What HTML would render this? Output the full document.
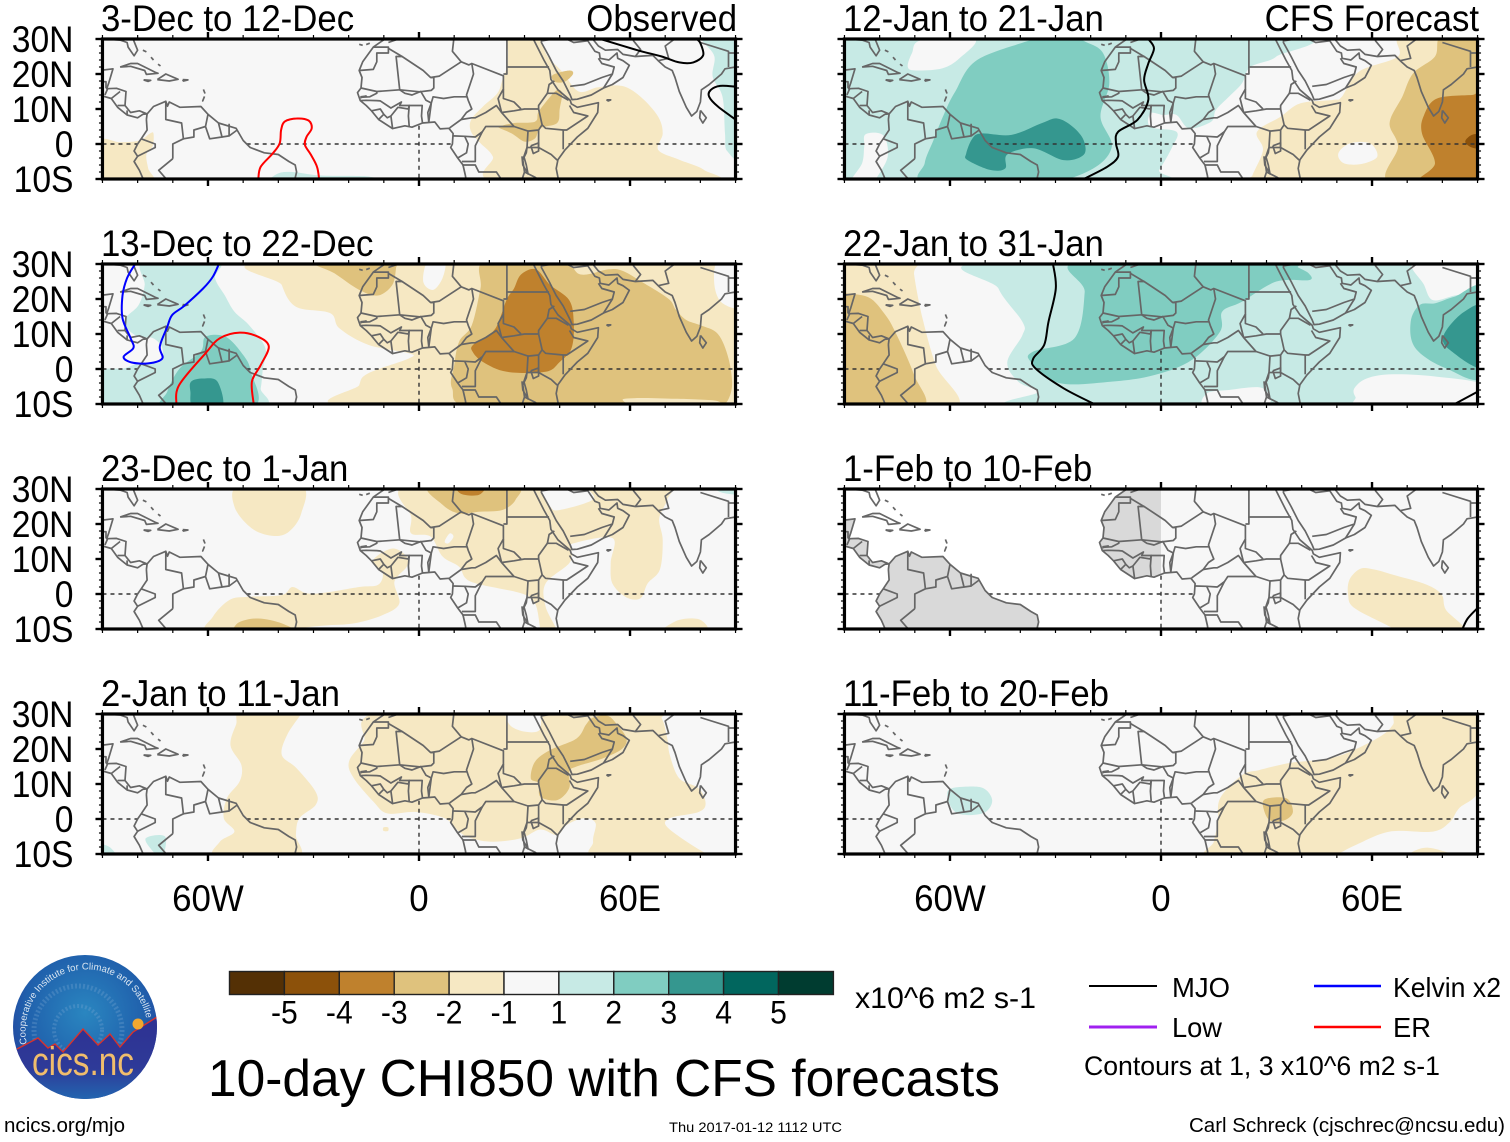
<!DOCTYPE html>
<html lang="en">
<head>
<meta charset="utf-8">
<title>10-day CHI850 with CFS forecasts</title>
<style>
html,body{margin:0;padding:0;background:#fff}
svg{display:block}
text{font-family:"Liberation Sans",sans-serif;fill:#000}
</style>
</head>
<body>
<svg id="chart" xmlns="http://www.w3.org/2000/svg" width="1510" height="1142" viewBox="0 0 1510 1142">
  <rect x="0" y="0" width="1510" height="1142" fill="#fff"/>
  <g id="panels"></g>

  <g id="colorbar"></g>
  <text x="855" y="1008" font-size="30" textLength="181" lengthAdjust="spacingAndGlyphs">x10^6 m2 s-1</text>
  <text x="208" y="1096" font-size="52" textLength="792" lengthAdjust="spacingAndGlyphs">10-day CHI850 with CFS forecasts</text>

  <g>
    <line x1="1089" y1="986" x2="1157" y2="986" stroke="#000" stroke-width="2"/>
    <text x="1172" y="997" font-size="28" textLength="58" lengthAdjust="spacingAndGlyphs">MJO</text>
    <line x1="1314" y1="986" x2="1381" y2="986" stroke="#0000ff" stroke-width="2.4"/>
    <text x="1393" y="997" font-size="28" textLength="108" lengthAdjust="spacingAndGlyphs">Kelvin x2</text>
    <line x1="1089" y1="1027" x2="1157" y2="1027" stroke="#a020f0" stroke-width="3"/>
    <text x="1172" y="1037" font-size="28" textLength="50" lengthAdjust="spacingAndGlyphs">Low</text>
    <line x1="1314" y1="1027" x2="1381" y2="1027" stroke="#ff0000" stroke-width="2.4"/>
    <text x="1393" y="1037" font-size="28" textLength="38" lengthAdjust="spacingAndGlyphs">ER</text>
    <text x="1084" y="1075" font-size="27" textLength="356" lengthAdjust="spacingAndGlyphs">Contours at 1, 3 x10^6 m2 s-1</text>
  </g>

  <g>
    <defs>
      <radialGradient id="logoSky" cx="50%" cy="40%" r="60%">
        <stop offset="0%" stop-color="#2a86c0"/>
        <stop offset="70%" stop-color="#2060ac"/>
        <stop offset="100%" stop-color="#25409c"/>
      </radialGradient>
      <linearGradient id="logoLow" x1="0" y1="0" x2="0" y2="1">
        <stop offset="0%" stop-color="#2e3192"/>
        <stop offset="55%" stop-color="#2e3a98"/>
        <stop offset="100%" stop-color="#1f74b8"/>
      </linearGradient>
      <clipPath id="logoClip"><circle cx="85" cy="1027" r="72"/></clipPath>
      <path id="logoArc" d="M 27 1044 A 60 60 0 1 1 146 1017"/>
    </defs>
    <circle cx="85" cy="1027" r="72" fill="url(#logoSky)"/>
    <g clip-path="url(#logoClip)">
      <circle cx="78" cy="1030" r="44" fill="none" stroke="#7fa9d4" stroke-width="5" stroke-dasharray="2 2" opacity=".3"/>
      <circle cx="78" cy="1030" r="24" fill="none" stroke="#7fa9d4" stroke-width="4" stroke-dasharray="2 2" opacity=".3"/>
      <path d="M10 1048 L17 1049 L38 1038 L48 1048 L55 1044 L63 1052 L83 1029 L98 1045 L110 1034 L120 1047 L133 1032 L157 1017 L160 1110 L10 1110 Z" fill="url(#logoLow)"/>
      <path d="M17 1049 L38 1038 L48 1048 L55 1044 L63 1052 L83 1029 L98 1045 L110 1034 L120 1047 L133 1032 L157 1017" fill="none" stroke="#d8322c" stroke-width="1.4"/>
      <circle cx="138" cy="1024" r="5.5" fill="#f0a830"/>
    </g>
    <text font-size="9.6" style="fill:#dbe6f2"><textPath href="#logoArc">Cooperative Institute for Climate and Satellites</textPath></text>
    <text x="32" y="1075" font-size="40" textLength="102" lengthAdjust="spacingAndGlyphs" style="fill:#f0bd6c">cics.nc</text>
  </g>

  <text x="4" y="1132" font-size="20.5" textLength="121" lengthAdjust="spacingAndGlyphs">ncics.org/mjo</text>
  <text x="669" y="1132" font-size="14" textLength="173" lengthAdjust="spacingAndGlyphs">Thu 2017-01-12 1112 UTC</text>
  <text x="1189" y="1132" font-size="20.5" textLength="316" lengthAdjust="spacingAndGlyphs">Carl Schreck (cjschrec@ncsu.edu)</text>
</svg>

<script>
/* ---------- categories / tick labels ---------- */
const leftTitles = ['3-Dec to 12-Dec','13-Dec to 22-Dec','23-Dec to 1-Jan','2-Jan to 11-Jan'];
const rightTitles = ['12-Jan to 21-Jan','22-Jan to 31-Jan','1-Feb to 10-Feb','11-Feb to 20-Feb'];
const latTicks = [30,20,10,0,-10];
const latLabels = ['30N','20N','10N','0','10S'];
const lonTicks = [-60,0,60];
const lonLabels = ['60W','0','60E'];
const colorbarLabels = [-5,-4,-3,-2,-1,1,2,3,4,5];
const levelNames = [-6,-5,-4,-3,-2,0,2,3,4,5,6];

/* ---------- filled contour regions: [level, [[lon,lat],...]] ---------- */
const fillsDec03 = [
 [-2,[[25.7,31],[25.3,26],[25,22],[23.7,18.3],[22.3,14.5],[18.2,10.7],[14.8,6.9],[14.8,3.5],[17.5,0.2],[21,-3.6],[23,-11],[82,-11],[81,-7.4],[74,-4.5],[68,-1.7],[69.3,3],[68,7.8],[63,13.5],[57.7,16.6],[50.9,16.2],[45.4,15],[40.7,20.7],[36.6,25],[34.6,30],[34.6,31]]],
 [-2,[[-91,0.7],[-85,0.5],[-79.5,1],[-76.5,3],[-75.5,3],[-75.7,-0.5],[-77.5,-3],[-77,-7],[-76,-11],[-91,-11]]],
 [-3,[[23,5],[27,6],[33,6.4],[34,9.2],[37.3,13.5],[39.3,15.4],[40.7,14.5],[40,10],[39.3,6],[34.5,4.5],[33,1.6],[30,0.7],[26.4,3],[23,4.5]]],
 [-3,[[38,19.7],[42.7,21],[43.8,20],[41.4,17.8],[38.6,17.8]]],
 [2,[[-43,-10.5],[-40,-8.4],[-36,-8],[-28,-9],[-14.4,-9.3],[-13,-11],[-43,-11]]],
 [2,[[80,31],[81,29],[84,25],[83.5,19.2],[86.3,13.5],[87,3],[87.6,-2],[92,-2],[92,31]]]
];
const fillsDec13 = [
 [2,[[-78,31],[-57.3,31],[-58,26],[-55.2,21],[-52.5,16.4],[-48.4,12.6],[-43.7,6],[-44.4,0],[-45,-5.5],[-46.4,-11],[-91,-11],[-91,-1],[-83.8,0.2],[-79.7,1.6],[-73.6,2],[-73,6],[-75.6,8.8],[-79.7,9.2],[-83,11.6],[-83.5,14.5],[-79.7,18.3],[-78,24]]],
 [3,[[-60.7,9.2],[-55,9.2],[-50,4],[-47.8,-0.8],[-47.3,-11],[-72,-11],[-71.6,-6.5],[-68,0.2],[-62,5]]],
 [4,[[-64.8,-3.6],[-61.4,-2.7],[-57.3,-3.6],[-56,-11],[-64,-11],[-65,-6.5]]],
 [-2,[[-40,31],[-39,24],[-35,17.8],[-25.3,16],[-22.6,11.6],[-14.4,6.9],[-2.9,4.5],[-2.9,3],[-14.4,-1.2],[-17,-4.6],[-18,-11],[92,-11],[92,31]]],
 [0,[[2.6,31],[7.3,31],[6.7,26],[4,22.6],[1.2,25]]],
 [0,[[85,31],[84,24],[86.3,18.8],[92,18.3],[92,31]]],
 [-3,[[-30,31],[-24,27.3],[-17,22.6],[-11.7,21],[-7.6,24],[-6.5,29],[-6.5,31]]],
 [-3,[[19,31],[17.5,23],[15,12.5],[11.4,7.8],[10,1],[9.4,-5.5],[15.5,-11],[56,-11],[58.5,-8.5],[72,-8.5],[84,-9],[87,-10],[89,-5],[88,3],[85,10],[80,12.5],[76,14],[73,17],[71,20],[64,24.5],[58,28],[54,28.5],[46,27],[40,31]]],
 [-4,[[33.2,28.5],[29,27],[27,23],[25,20],[23,14.5],[21,10.7],[15.5,7],[15.2,5],[18.2,2],[25,-0.8],[36,-0.8],[40,2],[43.4,6],[44,13.5],[42.7,19.7],[37.3,24]]]
];
const fillsDec23 = [
 [-2,[[-51,31],[-52.5,25],[-47.6,18.8],[-41.6,16.6],[-37,17.8],[-33.5,23],[-33.5,31]]],
 [-2,[[-3.5,31],[-2.2,22],[-2.2,17.3],[3.3,16.4],[6.7,10.7],[11.4,7.8],[14.8,3.5],[29,0.2],[33,-2.7],[34.5,-10],[35,-11],[39.3,-11],[36,-3.6],[36,3],[42.7,8.8],[43.4,12.6],[44,14.5],[55,16],[54.5,9],[55,3],[59,-1],[63,-1.2],[65,3],[68.5,7],[69.3,15.4],[68.3,21.6],[70.6,27],[70.6,31],[49.5,31],[49.5,27],[40,24],[37.3,25],[34.6,30],[34.6,31]]],
 [-2,[[-59.3,-11],[-58.6,-6.5],[-53.9,-1.7],[-48.4,-0.8],[-39,-0.3],[-36,2],[-32,0.2],[-26.7,0.4],[-17,2],[-11.7,2.6],[-10.3,6],[-13,9.7],[-7.6,13],[-3.5,10.7],[-3.5,7.8],[-7,3.5],[-5.6,-2.7],[-10.3,-6],[-18.5,-8.4],[-26.7,-9],[-33.5,-9.8],[-35,-11]]],
 [-2,[[68.6,-10.5],[74,-7.4],[80,-7.4],[81.5,-11],[68.6,-11]]],
 [0,[[7.3,15],[8.7,17.3],[9.8,16.4],[8.4,14.5]]],
 [-3,[[3.3,31],[6.7,25.5],[11.4,23],[17,23.5],[23.7,24],[27.5,27],[27,31]]],
 [-3,[[-53.2,-10.5],[-51,-8],[-45.7,-7],[-39,-8.4],[-36,-11],[-53.2,-11]]],
 [-4,[[11,31],[12,28.6],[17,28.3],[18.5,31]]],
 [2,[[84,31],[86,29],[92,28.5],[92,31]]]
];
const fillsJan02 = [
 [-2,[[-50,31],[-52,27],[-53.6,21],[-50.5,15.4],[-51,10.7],[-54.6,6],[-55.5,0.2],[-52.5,-3.6],[-56.6,-6.5],[-57.3,-11],[-34.8,-11],[-35,-4.6],[-34,0.2],[-29.4,4],[-29.4,7.8],[-34.8,14.5],[-39,18.3],[-37.5,24],[-33.5,30],[-33,31]]],
 [-2,[[-8.3,31],[-15.8,22],[-19.9,16.4],[-18.5,11.6],[-13,5],[-9,1.6],[-0.8,2],[7.3,0.2],[11.4,-3.6],[14.8,-5.5],[21,-6.5],[29,-5.5],[34.5,-3],[39.3,-4.6],[42,-1.7],[46.8,0.2],[50.2,-1.2],[49.5,-6.5],[51.6,-11],[88.3,-11],[82,-10],[71,-2.7],[71.3,0.2],[79.5,2],[81.5,4.5],[79.5,8.8],[74,11.6],[71.3,18.3],[70.6,23],[69,28.8],[66,31]]],
 [0,[[25.3,31],[25.7,27],[29.8,25],[34.3,25.5],[33.5,31]]],
 [-2,[[-10.1,-2.4],[-8.8,-2.4],[-8.8,-3.4],[-10.1,-3.4]]],
 [-3,[[49.5,29],[53.6,29.5],[56.3,27],[59,23],[57.7,20],[52.2,17.3],[44.8,15],[42.7,13.5],[42.7,8.8],[39.3,5.4],[34.5,6.4],[34,10.2],[31.8,11.6],[33,16.4],[37.3,19.7],[44.8,23],[47.5,27]]],
 [2,[[-91,-7.5],[-88,-8],[-86,-11],[-91,-11]]],
 [2,[[-77.7,-5.5],[-72.2,-5],[-73,-11],[-75.6,-9.3]]]
];
const fillsJan12 = [
 [2,[[-91,31],[34.5,31],[32.8,25],[25.4,22],[23,17.3],[19.3,13.5],[15.6,9.7],[14.3,6.4],[8,4.5],[4.4,8.3],[0.7,8.3],[-3,8.8],[-3,4.9],[4.4,3.5],[3.2,-0.8],[-0.5,-7.4],[-3.6,-11],[-91,-11]]],
 [0,[[-70.8,26],[-68,29.7],[-53,30],[-57.3,24.5],[-62.2,21.6],[-69.6,21],[-72,22]]],
 [0,[[-84,2.8],[-79,2.5],[-77.7,-3.6],[-81,-10],[-81,-11],[-88,-11],[-85,-5.5],[-84.4,-0.8]]],
 [3,[[-36,31],[-36.3,30],[-52.3,24],[-58.5,15],[-61.6,8.8],[-64.7,1.1],[-67.2,-5.5],[-66.5,-11],[-33.8,-11],[-20,-7.4],[-14,-0.8],[-17.2,7.8],[-14.7,17.3],[-16.5,26],[-21.5,29.2],[-26,31]]],
 [4,[[-29.5,7.3],[-25.2,5],[-22,1.1],[-22,-3.1],[-27.7,-4.6],[-36.3,-1.2],[-43.7,-3],[-44.3,-7],[-48.6,-7.4],[-55,-4.6],[-55.4,-2.7],[-53.6,1.6],[-51,3],[-42.5,2.6],[-33.8,6]]],
 [-2,[[68.6,31],[67.4,25],[56.3,20.7],[51.4,13.5],[49,12.6],[39.6,11.6],[34,7.8],[27.3,3.5],[29,-1.7],[26,-9],[26,-11],[91,-11],[91,31]]],
 [0,[[50.4,-2.7],[53.8,0.2],[59.4,0.2],[61.5,-3.6],[57,-5.7],[52,-5.5]]],
 [-3,[[79.8,31],[77.9,25],[71.7,20.2],[68.6,13.5],[65,6],[67.4,-0.8],[65,-11],[91,-11],[91,31]]],
 [-4,[[78.5,13],[88.4,14],[92,14],[92,-11],[73.6,-11],[77.9,-5.5],[74.2,3],[74.8,8.3]]],
 [-5,[[88.4,2.6],[91,2.5],[91,-1],[88.4,-1],[86.5,0.7]]]
];
const fillsJan22 = [
 [-2,[[-91,31],[-70,31],[-70.2,27],[-67.8,14.5],[-64,1],[-58.5,-11],[-91,-11]]],
 [-3,[[-91,21.6],[-89.4,21.6],[-83,20.4],[-78.7,15.9],[-75.6,10.7],[-70.2,-1.7],[-68,-11],[-91,-11]]],
 [2,[[-46.4,31],[-46.2,23],[-39.4,13.5],[-39.4,9.7],[-43.7,2],[-40.6,-3.6],[-35,-6.5],[-35.7,-11],[92,-11],[92,31]]],
 [0,[[72,31],[74.8,24],[77.3,19.7],[83.5,21],[92,23],[92,31]]],
 [0,[[55,-5.5],[58.5,-2.7],[66,-1.5],[78.5,-2.2],[92,-4.6],[92,-11],[58,-11],[55.3,-8]]],
 [0,[[13,-7],[19.3,-6],[29,-5.5],[29.8,-11],[13,-11]]],
 [3,[[-22.7,31],[-21.7,22],[-24.6,8.8],[-36.3,5],[-37,2],[-29,-4],[-14,-3.6],[-1.7,-1.7],[8.8,2.6],[16.8,10.7],[17.4,16.4],[23,19.2],[32.8,25],[42.1,25.4],[42,27.3],[39,29],[35,31]]],
 [3,[[92,22.7],[83.5,20.7],[78,18.8],[73.6,18.3],[71,13.5],[72.3,6],[81,0.2],[92,-1.7]]],
 [4,[[92,17.3],[86,16.2],[80.4,9.7],[82.2,5.4],[92,0.7]]]
];
const fillsFeb01 = [
 [-2,[[56.7,7.2],[53.6,4.1],[53.2,-0.2],[55,-4],[65,-9.3],[67.4,-11],[86,-11],[81,-4.5],[79.8,-0.2],[75.4,2.7],[66,5.5],[60.6,7]]]
];
const fillsFeb11 = [
 [2,[[-60.4,8.3],[-56,9.2],[-50.5,8.8],[-48,5.4],[-49.9,2],[-54.8,1.1],[-58.5,2],[-60.4,5]]],
 [-2,[[91,31],[68.6,31],[66,27],[63.7,24.5],[58.8,21.6],[51.4,18.3],[45,16.9],[36.5,16],[28,14],[23,12.5],[16.8,5.9],[16.2,-0.8],[15,-6.5],[14,-11],[44,-11],[50,-10],[55,-7.6],[65,-3.6],[77.3,-3.6],[82.2,-0.8],[84.7,3],[91,9.7]]],
 [-2,[[71.7,-9.3],[76,-8.2],[82.2,-9.8],[83.5,-11],[71,-11]]],
 [-3,[[29,5],[31.6,6.1],[36,5.7],[37.5,2],[35.3,-0.3],[31.6,-0.6],[29.8,1.1]]]
];

/* ---------- wave contour lines: [kind, [[lon,lat],...]] ---------- */
const linesDec03 = [
 ['mjo',[[51.6,30],[61.8,26.9],[69,25],[74,23.3],[78,23.3],[80.8,25.4],[80,28.8],[78.8,30.2]]],
 ['mjo',[[90,16.4],[85.6,16.6],[82.9,15.4],[82.5,13.5],[85,10.7],[90,7]]],
 ['er',[[-45.7,-10],[-45,-6.5],[-41.6,-2.7],[-39.6,0.2],[-39.2,4],[-38.2,6.4],[-34.8,7.3],[-31.4,6.7],[-30.5,4.5],[-32,2],[-32.4,-0.3],[-30.7,-3.1],[-29,-6.5],[-28.4,-10]]]
];
const linesDec13 = [
 ['kelvin',[[-80.7,30],[-83,26],[-84.3,21],[-84.3,14.5],[-82,8.8],[-81.2,6],[-84,3.5],[-81.8,1.9],[-77,1.6],[-73,3],[-73.7,6.4],[-71.6,12],[-70.2,15.4],[-66.8,18],[-61.4,23],[-58.6,26.4],[-56.9,30]]],
 ['er',[[-69,-10],[-68.2,-4.6],[-60.7,4.5],[-56.6,8.8],[-51,10.4],[-45.7,9.2],[-42.7,6.4],[-45,1.1],[-47.5,-3.6],[-47,-10]]]
];
const linesDec23 = [];
const linesJan02 = [];
const linesJan12 = [
 ['mjo',[[-3.6,30],[-2,27.3],[-3.6,23],[-4.8,18.3],[-3.6,12.6],[-6.7,6.9],[-12.2,3.5],[-12.8,0.2],[-12.2,-3.6],[-15.3,-6.5],[-22,-10]]]
];
const linesJan22 = [
 ['mjo',[[-30.7,30],[-29.9,23],[-32,13.5],[-33.2,6.9],[-36.3,3],[-35.7,0.2],[-27.7,-5.5],[-19,-10]]],
 ['mjo',[[83.5,-10],[90,-6.5]]]
];
const linesFeb01 = [
 ['mjo',[[85.7,-10],[87.2,-7],[90,-4]]]
];
const linesFeb11 = [];

/* ---------- map: coast and borders in lon/lat ---------- */
const caAtlantic = [[-91,21.2],[-90,21.1],[-87,21.5],[-87.6,19.5],[-88.2,17.5],[-88.8,15.8],[-86,15.9],[-83.3,15],[-83.6,11],[-82,9],[-79.5,9.5],[-77.3,8.6]];
const saAtlantic = [[-77.3,8.6],[-75.5,10.7],[-72,12.2],[-71.5,10.8],[-71,12],[-68,10.5],[-62,10.7],[-60,8.5],[-57,6],[-52,4.5],[-50,1],[-48,-1],[-44,-2.5],[-40,-3],[-37,-5],[-35.2,-6],[-34.8,-8],[-35.5,-11]];
const caPacific = [[-91,14],[-87.5,13],[-85.7,10.5],[-83,8.3],[-80,7.5],[-78.5,8.5],[-77.3,8.6]];
const saPacific = [[-77.5,7],[-77.3,4],[-79,1.5],[-80,0],[-81,-2],[-80,-3.5],[-81,-5],[-79.5,-7.5],[-78,-11]];
const africaWest = [[-9.7,31],[-9.7,30],[-13,27.7],[-16,23.5],[-17,21],[-16.2,19],[-16.5,16],[-17.5,14.7],[-16.7,12.4],[-15,11],[-13.5,9.5],[-11.5,7],[-7.5,4.4],[-4,5.2],[-2,4.8],[1,6],[4.5,6.3],[6,4.3],[8.5,4.5],[9.7,3],[9.5,0],[9,-1],[11,-4],[12.5,-6],[13.2,-9],[13.5,-11]];
const africaEast = [[32.5,31],[32.5,30],[34,27],[35.5,24],[37.2,21],[37.5,18.5],[39.5,15.5],[43,12.5],[43.3,11.5],[45,10.5],[51,11.8],[50.8,9],[48,4.5],[45,2],[41.5,-1.7],[39.5,-4.5],[39,-7],[39.8,-11]];
const arabiaCoast = [[34.9,31],[34.8,29],[37,25],[39,21],[41,18],[43,14],[43.5,12.7],[45,12.8],[49,14],[52.5,16],[55,17],[58,19],[59.8,22.5],[58,23.8],[56.5,24.5],[56.3,26],[54,24],[51.5,24.5],[51.3,26],[50,26.5],[48,29.5],[48,31]];
const iranIndiaCoast = [[49,30.5],[51,28],[53,26.8],[56.5,27],[58,25.6],[61.5,25],[66.5,25.3],[68,23.8],[70,22],[72,21],[72.8,19],[74,15],[76,10.5],[77.5,8],[79,9.3],[80,12],[80.3,15.5],[82.5,17],[86,20],[87,21.5],[90,22],[91,23]];
const usGulfCoast = [[-91,29.3],[-89,30],[-85,29.7],[-83,29],[-82.7,27.7],[-81,25.2],[-80,26.8],[-81.3,30],[-81.4,31]];
const cuba = [[-85,22],[-82,23],[-80,23],[-75,20.5],[-74.2,20.2],[-77.5,19.9],[-78,21],[-82,22.2],[-85,22]];
const hispaniola = [[-74.4,18.4],[-72,20],[-68.5,18.5],[-71,18],[-74.4,18.4]];
const jamaica = [[-78.3,18.3],[-76.3,18.2],[-77,17.9],[-78.3,18.3]];
const puertoRico = [[-67.2,18.4],[-65.7,18.3],[-67,18],[-67.2,18.4]];
const bahamasA = [[-78.5,26.8],[-77.5,26.3]];
const bahamasB = [[-76.2,24.8],[-75.5,24]];
const bahamasC = [[-74.2,22.8],[-73.5,22.3]];
const antillesA = [[-61.3,15.6],[-60.9,14.6],[-61.3,15.6]];
const antillesB = [[-61,13.6],[-61.5,12.3],[-61,13.6]];
const canaries = [[-17,28.5],[-16,28.2]];
const canariesB = [[-15,28.4],[-14,28.8]];
const sriLanka = [[80,9.6],[81.7,7.5],[80.7,6],[79.8,7.5],[80,9.6]];
const socotra = [[53.3,12.6],[54.5,12.6],[53.8,12.3],[53.3,12.6]];
const lakeVictoria = [[31.8,-0.5],[34,0.3],[34,-2],[32.5,-2.7],[31.8,-0.5]];
const lakeTanganyika = [[29.3,-3.5],[29.5,-6],[31,-8.5],[30.5,-6],[29.8,-3.5]];
const coastLines = [caAtlantic,saAtlantic,caPacific,saPacific,africaWest,africaEast,arabiaCoast,iranIndiaCoast,usGulfCoast,cuba,hispaniola,jamaica,puertoRico,bahamasA,bahamasB,bahamasC,antillesA,antillesB,canaries,canariesB,sriLanka,socotra,lakeVictoria,lakeTanganyika];
const borderLines = [
 [[-13,27.7],[-8.7,27.7],[-8.7,26],[-12,26],[-12,23.5],[-13,21.3],[-17,21]],
 [[-8.7,27.3],[-4.8,25],[-6.5,25],[-5.5,15.5],[-12,15],[-16.5,16]],
 [[-4.8,25],[1.2,21],[3.3,19],[4.2,19],[4.2,16],[3.5,15.3],[0.2,14.9],[-5.5,15.5]],
 [[-8.7,29],[-3,31]],
 [[3.3,19],[5.8,19.4],[12,23.5],[14.2,22.6],[15,23],[24,19.5],[24,15.7],[22.5,13],[23.5,9]],
 [[10,31],[9.5,26.5],[12,23.5]],
 [[25,31],[25,22],[37,22]],
 [[24,20],[25,20],[25,22]],
 [[15,23],[15.5,20],[13.5,14],[14,12.5],[15,10],[13.5,9],[12,7],[8.7,4.6]],
 [[2.8,6.3],[3.5,11.7],[4,13.5],[7,13],[10,13.5],[13.5,13.5]],
 [[3.5,11.7],[2,12.5],[0.5,15],[0.2,14.9]],
 [[1,6],[0.7,8],[0.9,11],[-2.8,11],[-3,8],[-2.8,5]],
 [[2.8,6.3],[2.5,9],[3.5,11.7]],
 [[-7.5,4.4],[-8,8],[-6,10.5],[-3,10],[-2.8,11],[-5.5,11],[-5,12],[-8,10.3],[-11,12.3],[-12,12.4],[-15,12.5],[-16.7,12.4]],
 [[-11.5,7],[-10,8.5],[-11,10],[-13.5,9.5]],
 [[-8,8],[-9,7.5],[-10,8.5]],
 [[-16,13.4],[-14,13.5],[-12,14.5],[-12,15]],
 [[-16.7,13.5],[-15,13.7],[-16.7,13.2]],
 [[-5.5,15.5],[-4,14.5],[-2,14],[0.2,14.9]],
 [[9.7,2.3],[13,2.2],[14,0],[13.5,-2.5],[11,-4]],
 [[12,7],[15,7.5],[16,7.5],[19,9],[22,11],[23.5,9],[27,5],[31,3.7],[30.7,-1],[29.5,-4.5],[30,-8],[29,-11]],
 [[13,2.2],[16,2],[18,3.5],[19,5],[23,5],[27,5]],
 [[16,2],[18,3.5],[16,-0.5],[16,-5],[12.2,-5]],
 [[12.3,-6],[16,-6],[17,-8],[22,-8],[24,-11]],
 [[23.5,9],[27,9.5],[30,10],[33,10],[34,10],[35,5.5],[34,4],[31,3.7]],
 [[36.5,14.5],[34,11],[34,10]],
 [[24,15.7],[24,13],[27,12],[29,10]],
 [[36.5,14.5],[37,17],[38.5,18]],
 [[36.5,14.5],[39,14.5],[42.5,12.5]],
 [[35,5.5],[36,4.5],[41,4],[42,4],[48,8],[44,9],[42.8,11]],
 [[41,4],[41,-1.5]],
 [[34,4],[34,1],[34,-1],[37.6,-3],[39.3,-4.6]],
 [[30.7,-1],[34,-1]],
 [[29.5,-4.5],[30.5,-2.5],[30.7,-1]],
 [[30,-8],[33,-9.5],[35,-11]],
 [[43,16.5],[47,17],[52,19],[55,20],[55.5,22],[52,23],[51,24.5]],
 [[52.5,16],[55,20]],
 [[48,29.5],[44,29],[40,31]],
 [[35,29.5],[38,30],[37,31]],
 [[61.5,25],[63,27],[61,29.5],[60.5,31]],
 [[68,23.8],[71,24.5],[70,28],[74,31]],
 [[80,29],[88,26.5],[88,22]],
 [[88,26],[90,26],[91,25]],
 [[-72,12],[-72,7],[-67.5,6],[-67,1.5],[-70,0],[-70,-4.2]],
 [[-80,-3.5],[-75,-1],[-75,0],[-79,1.5]],
 [[-70,-4.2],[-74,-7.5],[-71,-11]],
 [[-67,1.5],[-64,2],[-64,4],[-60.7,5]],
 [[-60,8.5],[-60.7,5],[-59.5,1.5],[-56,2],[-57,6]],
 [[-56,2],[-54,2.3],[-54,5.8]],
 [[-54,2.3],[-51.7,4]],
 [[-71,-11],[-69,-11]],
 [[-91,17.8],[-89,17.8],[-89,15.9]],
 [[-89.3,14],[-88.5,15.8]],
 [[-87.5,13],[-85,15]],
 [[-85.7,11],[-83.6,11]],
 [[-83,8.3],[-83,9.6]],
 [[-77.3,8.6],[-77.5,7]]
];

/* ocean-only stretches of the reference dashed lines */
const equatorSegments = [[-90,-80],[-49,9.5],[42.5,90]];
const meridianSegment = [5.2,-10];

/* colours for shading levels and contour kinds */
const levelColors = {'-6':'#543005','-5':'#8c510a','-4':'#bf812d','-3':'#dfc27d','-2':'#f6e8c3','0':'#f7f7f7','2':'#c7eae5','3':'#80cdc1','4':'#35978f','5':'#01665e','6':'#003c30'};
const lineColors = {mjo:'#000000',kelvin:'#0000ff',er:'#ff0000',low:'#a020f0'};

const NS = 'http://www.w3.org/2000/svg';
const panelTops = [39,264,489,714];
const leftZero = 419, rightZero = 1161, lonScale = 3.517, latScale = 3.5;

function lonToX(zero, lon){ return zero + lon * lonScale; }
function latToY(top, lat){ return top + (30 - lat) * latScale; }

function mk(tag, attrs, parent){
  const e = document.createElementNS(NS, tag);
  for (const k in attrs) e.setAttribute(k, attrs[k]);
  parent.appendChild(e);
  return e;
}

function narrowText(parent, x, y, size, squeeze, anchor, label){
  const e = mk('text', {transform:'translate(' + x + ',' + y + ') scale(' + squeeze + ',1)', 'font-size':size, 'text-anchor':anchor}, parent);
  e.textContent = label;
  return e;
}

function smoothPath(p, closed){
  const n = p.length;
  const at = i => closed ? p[(i + n) % n] : p[Math.max(0, Math.min(n - 1, i))];
  let d = 'M' + p[0][0].toFixed(1) + ' ' + p[0][1].toFixed(1);
  const last = closed ? n : n - 1;
  for (let i = 0; i < last; i++){
    const a = at(i-1), b = at(i), c = at(i+1), e = at(i+2);
    const c1x = b[0] + (c[0]-a[0])/6, c1y = b[1] + (c[1]-a[1])/6;
    const c2x = c[0] - (e[0]-b[0])/6, c2y = c[1] - (e[1]-b[1])/6;
    d += 'C' + c1x.toFixed(1) + ' ' + c1y.toFixed(1) + ' ' + c2x.toFixed(1) + ' ' + c2y.toFixed(1) + ' ' + c[0].toFixed(1) + ' ' + c[1].toFixed(1);
  }
  return d + (closed ? 'Z' : '');
}
function straightPath(p){
  return 'M' + p.map(q => q[0].toFixed(1) + ' ' + q[1].toFixed(1)).join('L');
}

function drawPanel(idx, zero, top, title, fills, lines, showLatLabels, showLonLabels, rightText, missingWest){
  const root = document.getElementById('panels');
  const X = lon => lonToX(zero, lon);
  const Y = lat => latToY(top, lat);
  const proj = pts => pts.map(q => [X(q[0]), Y(q[1])]);
  const g = mk('g', {}, root);
  
  

  const defs = mk('defs', {}, g);
  const cp = mk('clipPath', {id:'clip' + idx}, defs);
  mk('rect', {x:X(-90), y:Y(30), width:X(90)-X(-90), height:Y(-10)-Y(30)}, cp);
  const inner = mk('g', {'clip-path':'url(#clip' + idx + ')'}, g);
  mk('rect', {x:X(-90), y:Y(30), width:X(90)-X(-90), height:Y(-10)-Y(30), fill:levelColors['0']}, inner);

  if (missingWest){
    const cpw = mk('clipPath', {id:'clipw' + idx}, defs);
    mk('rect', {x:X(-90), y:Y(30), width:X(0)-X(-90), height:Y(-10)-Y(30)}, cpw);
    const w = mk('g', {'clip-path':'url(#clipw' + idx + ')'}, inner);
    
    
    mk('rect', {x:X(-90), y:Y(30), width:X(0)-X(-90), height:Y(-10)-Y(30), fill:'#ffffff'}, w);
    const landSA = saAtlantic.concat(saPacific.slice().reverse());
    const landCA = caAtlantic.concat(caPacific.slice().reverse());
    const landAF = africaWest.concat([[2,-11],[2,31]]);
    [landSA, landCA, landAF].forEach(poly => {
      mk('path', {d:straightPath(proj(poly)) + 'Z', fill:'#d9d9d9'}, w);
    });
  }

  fills.forEach((f) => {
    const path = mk('path', {d:smoothPath(proj(f[1]), true), fill:levelColors[String(f[0])]}, inner);
    
    
  });

  equatorSegments.forEach(s => {
    const l = mk('line', {x1:X(s[0]), y1:Y(0), x2:X(s[1]), y2:Y(0), stroke:'#333', 'stroke-width':1.4, 'stroke-dasharray':'4 4'}, inner);
    
    
  });
  const mer = mk('line', {x1:X(0), y1:Y(meridianSegment[0]), x2:X(0), y2:Y(meridianSegment[1]), stroke:'#333', 'stroke-width':1.4, 'stroke-dasharray':'4 4'}, inner);
  
  

  const coast = mk('g', {fill:'none', stroke:'#666', 'stroke-width':1.7, 'stroke-linejoin':'round'}, inner);
  
  
  borderLines.concat(coastLines).forEach(c => {
    mk('path', {d:straightPath(proj(c))}, coast);
  });

  lines.forEach(l => {
    const path = mk('path', {d:smoothPath(proj(l[1]), false), fill:'none', stroke:lineColors[l[0]], 'stroke-width':2}, inner);
    
    
  });

  const tg = mk('g', {stroke:'#000', fill:'none'}, g);
  
  
  for (let lon = -90; lon <= 90; lon += 10){
    const major = lonTicks.indexOf(lon) >= 0;
    const len = major ? 7 : 4;
    const w = major ? 2.4 : 1.2;
    mk('line', {x1:X(lon), y1:Y(30), x2:X(lon), y2:Y(30)-len, 'stroke-width':w}, tg);
    mk('line', {x1:X(lon), y1:Y(-10), x2:X(lon), y2:Y(-10)+len, 'stroke-width':w}, tg);
  }
  for (let lat = -10; lat <= 30; lat += 2){
    const major = latTicks.indexOf(lat) >= 0;
    const len = major ? 7 : 3.5;
    const w = major ? 2.4 : 1.2;
    mk('line', {x1:X(-90), y1:Y(lat), x2:X(-90)-len, y2:Y(lat), 'stroke-width':w}, tg);
    mk('line', {x1:X(90), y1:Y(lat), x2:X(90)+len, y2:Y(lat), 'stroke-width':w}, tg);
  }
  const frame = mk('rect', {x:X(-90), y:Y(30), width:X(90)-X(-90), height:Y(-10)-Y(30), fill:'none', stroke:'#000', 'stroke-width':3.2}, g);
  
  

  const t = narrowText(g, X(-90)-1.5, top-8, 37, 0.94, 'start', title);
  
  
  if (rightText){
    const r = narrowText(g, X(90)+1.5, top-8, 37, 0.94, 'end', rightText);
    
    
  }
  if (showLatLabels){
    latTicks.forEach((lat, i) => {
      const e = narrowText(g, 73.5, Y(lat)+13, 37, 0.91, 'end', latLabels[i]);
      
      
    });
  }
  if (showLonLabels){
    lonTicks.forEach((lon, i) => {
      const e = narrowText(g, X(lon), 911, 37.5, 0.93, 'middle', lonLabels[i]);
      
      
    });
  }
}

const leftFills = [fillsDec03, fillsDec13, fillsDec23, fillsJan02];
const rightFills = [fillsJan12, fillsJan22, fillsFeb01, fillsFeb11];
const leftLines = [linesDec03, linesDec13, linesDec23, linesJan02];
const rightLines = [linesJan12, linesJan22, linesFeb01, linesFeb11];

panelTops.forEach((top, i) => {
  drawPanel(i, leftZero, top, leftTitles[i], leftFills[i], leftLines[i], true, i === 3, i === 0 ? 'Observed' : '', false);
  drawPanel(i + 4, rightZero, top, rightTitles[i], rightFills[i], rightLines[i], false, i === 3, i === 0 ? 'CFS Forecast' : '', i === 2);
});

/* colour bar */
const cb = document.getElementById('colorbar');
const cbColors = levelNames.map(k => levelColors[String(k)]);
cbColors.forEach((c, i) => {
  const r = mk('rect', {x:229.5 + i * 54.9, y:971.5, width:54.9, height:23, fill:c, stroke:'#222', 'stroke-width':1.4}, cb);
  
  
});
colorbarLabels.forEach((v, i) => {
  const t = narrowText(cb, 284.4 + i * 54.9, 1023.5, 32, 0.94, 'middle', String(v));
  
  
});
</script>
</body>
</html>
